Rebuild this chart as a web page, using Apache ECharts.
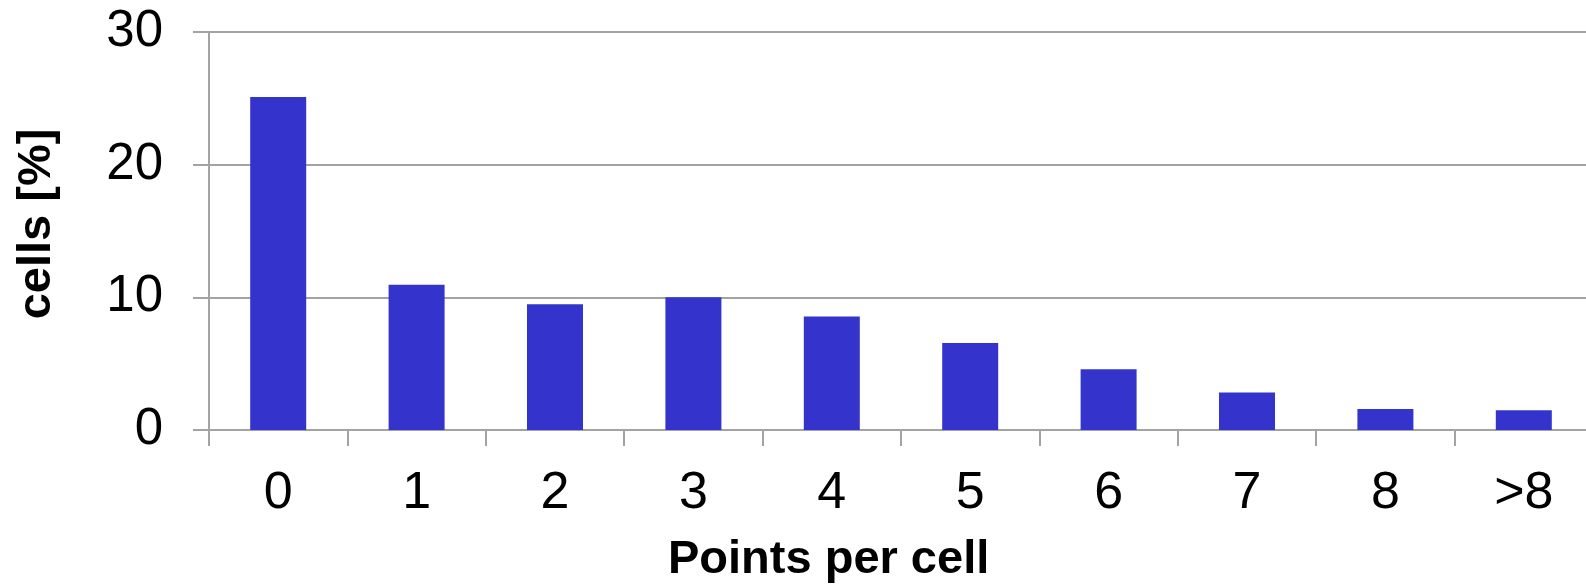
<!DOCTYPE html>
<html>
<head>
<meta charset="utf-8">
<style>
html,body{margin:0;padding:0;background:#fff;overflow:hidden;}
#c{width:1600px;height:586px;}
</style>
<script src="https://cdn.jsdelivr.net/npm/echarts@6/dist/echarts.min.js"></script>
</head>
<body>
<div id="c"></div>
<script>
var categories = ['0', '1', '2', '3', '4', '5', '6', '7', '8', '>8'];
var cellsPercent = [25.1, 10.95, 9.47, 10.0, 8.55, 6.56, 4.57, 2.82, 1.58, 1.48];
var yTicks = [0, 10, 20, 30];

var chart = echarts.init(document.getElementById('c'), null, {renderer: 'canvas'});
var gridColor = '#a3a3a3';
var font = 'Liberation Sans, Arial, Helvetica, sans-serif';
chart.setOption({
  animation: false,
  backgroundColor: '#ffffff',
  title: {
    text: 'Points per cell',
    left: 668,
    top: 537,
    padding: 0,
    textStyle: {fontFamily: font, fontWeight: 'bold', fontSize: 47, color: '#000'}
  },
  grid: {left: 209, top: 32, width: 1384, bottom: 156, containLabel: false},
  xAxis: {
    type: 'category',
    data: categories,
    boundaryGap: true,
    axisLine: {show: true, lineStyle: {color: gridColor, width: 2}},
    axisTick: {show: true, length: 16, alignWithLabel: false, lineStyle: {color: gridColor, width: 2}},
    axisLabel: {fontFamily: font, fontSize: 52, color: '#000', margin: 38, interval: 0},
    splitLine: {show: false}
  },
  yAxis: {
    type: 'value',
    min: yTicks[0],
    max: yTicks[yTicks.length - 1],
    interval: 10,
    name: 'cells [%]',
    nameLocation: 'middle',
    nameGap: 148,
    nameTextStyle: {fontFamily: font, fontWeight: 'bold', fontSize: 47, color: '#000', padding: [0, 0, 0, 14]},
    axisLine: {show: true, lineStyle: {color: gridColor, width: 2}},
    axisTick: {show: true, length: 16, lineStyle: {color: gridColor, width: 2}},
    axisLabel: {fontFamily: font, fontSize: 51, color: '#000', margin: 46},
    splitLine: {show: true, lineStyle: {color: gridColor, width: 2}}
  },
  series: [{
    type: 'bar',
    data: cellsPercent,
    barWidth: 56,
    itemStyle: {color: '#3434cc'}
  }]
});
</script>
</body>
</html>
